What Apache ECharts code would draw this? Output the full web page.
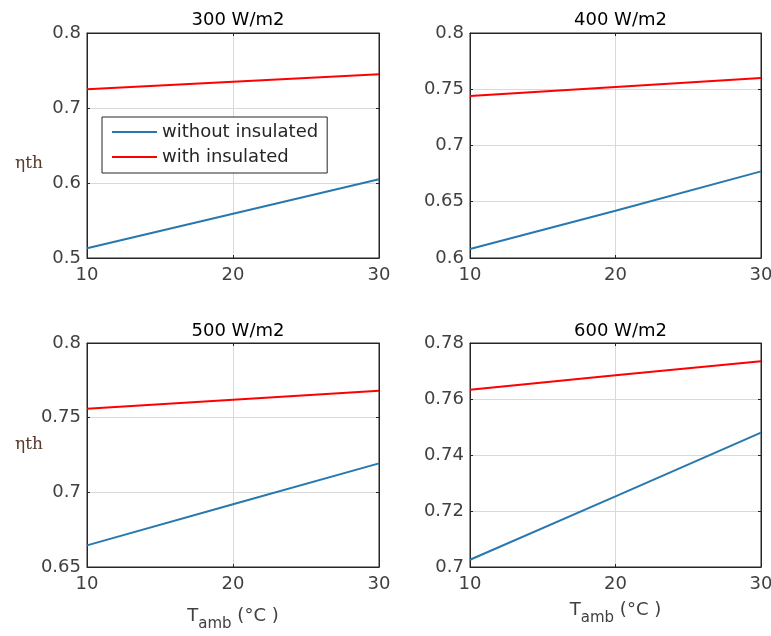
<!DOCTYPE html>
<html><head><meta charset="utf-8">
<script src="https://cdn.jsdelivr.net/npm/echarts@6/dist/echarts.min.js"></script>
<style>html,body{margin:0;padding:0;background:#fff}#c{width:771px;height:636px}</style>
</head><body><div id="c"></div>
<script>
const xValues = [10, 20, 30];
const titles = ['300 W/m2', '400 W/m2', '500 W/m2', '600 W/m2'];
const withoutInsulated300 = [0.513, 0.559, 0.605];
const withInsulated300 = [0.725, 0.735, 0.745];
const withoutInsulated400 = [0.608, 0.642, 0.677];
const withInsulated400 = [0.744, 0.752, 0.760];
const withoutInsulated500 = [0.6645, 0.692, 0.7194];
const withInsulated500 = [0.756, 0.762, 0.768];
const withoutInsulated600 = [0.7026, 0.7252, 0.748];
const withInsulated600 = [0.7633, 0.7685, 0.7735];
const yMins = [0.5, 0.6, 0.65, 0.7];
const yMaxs = [0.8, 0.8, 0.8, 0.78];
const yIntervals = [0.1, 0.05, 0.05, 0.02];
const yDecimals = [1, 2, 2, 2];

const blueData = [withoutInsulated300, withoutInsulated400, withoutInsulated500, withoutInsulated600];
const redData = [withInsulated300, withInsulated400, withInsulated500, withInsulated600];

const grids = [
  {left: 87, top: 33, width: 292, height: 225},
  {left: 470, top: 33, width: 291, height: 225},
  {left: 87, top: 343, width: 292, height: 224},
  {left: 470, top: 343, width: 291, height: 224}
];
const titleOffsets = [27, 27, 26, 26];
const yNamePads = [[36, 0, 0, 0], null, [0, 0, 20, 0], null];
const xNameGaps = [0, 0, 34, 28];
const axisColor = '#262626';
const labelColor = '#404040';
const fontFam = '"DejaVu Sans", sans-serif';
const serifFam = '"DejaVu Serif", "Liberation Serif", serif';

const xAxes = [], yAxes = [], series = [], titleArr = [];
grids.forEach((g, i) => {
  g.show = true; g.borderColor = axisColor; g.borderWidth = 1; g.containLabel = false;
  g.outerBoundsMode = 'none';
  titleArr.push({text: titles[i], left: g.left + g.width / 2, top: g.top - titleOffsets[i], textAlign: 'center',
    textStyle: {fontSize: 18, fontWeight: 'normal', color: '#000', fontFamily: fontFam}});
  const base = {gridIndex: i, type: 'value', min: 10, max: 30, interval: 10};
  xAxes.push(Object.assign({}, base, {
    position: 'bottom',
    axisLine: {show: true, lineStyle: {color: axisColor, width: 1}},
    axisTick: {show: true, inside: true, length: 3, lineStyle: {color: axisColor}},
    axisLabel: {show: true, fontSize: 18, color: labelColor, fontFamily: fontFam, margin: 8},
    splitLine: {show: true, lineStyle: {color: '#d9d9d9', width: 1}},
    name: i >= 2 ? 'T{sub|amb} (°C )' : '',
    nameLocation: 'middle', nameGap: xNameGaps[i], nameMoveOverlap: false,
    nameTextStyle: {fontSize: 18, color: labelColor, fontFamily: fontFam,
      rich: {sub: {fontSize: 15, color: labelColor, fontFamily: fontFam, padding: [16, 0, 0, 0]}}}
  }));
  xAxes.push(Object.assign({}, base, {
    position: 'top',
    axisLine: {show: true, lineStyle: {color: axisColor}},
    axisTick: {show: true, inside: true, length: 3, lineStyle: {color: axisColor}},
    axisLabel: {show: false}, splitLine: {show: false}
  }));
  const ybase = {gridIndex: i, type: 'value', min: yMins[i], max: yMaxs[i], interval: yIntervals[i]};
  const yName = {fontSize: 17, color: '#5a3a2a', fontFamily: serifFam};
  if (yNamePads[i]) {
    yName.rich = {a: {fontSize: 17, color: '#5a3a2a', fontFamily: serifFam, padding: yNamePads[i]}};
  }
  yAxes.push(Object.assign({}, ybase, {
    position: 'left',
    axisLine: {show: true, lineStyle: {color: axisColor}},
    axisTick: {show: true, inside: true, length: 3, lineStyle: {color: axisColor}},
    axisLabel: {show: true, fontSize: 18, color: labelColor, fontFamily: fontFam, margin: 6,
      formatter: v => (+v.toFixed(yDecimals[i])).toString()},
    splitLine: {show: true, lineStyle: {color: '#d9d9d9', width: 1}},
    name: (i === 0 || i === 2) ? '{a|ηth}' : '',
    nameLocation: 'middle', nameGap: 44, nameRotate: 0, nameMoveOverlap: false,
    nameTextStyle: yName
  }));
  yAxes.push(Object.assign({}, ybase, {
    position: 'right',
    axisLine: {show: true, lineStyle: {color: axisColor}},
    axisTick: {show: true, inside: true, length: 3, lineStyle: {color: axisColor}},
    axisLabel: {show: false}, splitLine: {show: false}
  }));
  series.push({
    name: 'without insulated', type: 'line', xAxisIndex: 2 * i, yAxisIndex: 2 * i,
    data: xValues.map((x, k) => [x, blueData[i][k]]), showSymbol: false, symbol: 'none',
    lineStyle: {color: '#2878b0', width: 2}, itemStyle: {color: '#2878b0'}, z: 3, silent: true
  });
  series.push({
    name: 'with insulated', type: 'line', xAxisIndex: 2 * i, yAxisIndex: 2 * i,
    data: xValues.map((x, k) => [x, redData[i][k]]), showSymbol: false, symbol: 'none',
    lineStyle: {color: '#ff0000', width: 2}, itemStyle: {color: '#ff0000'}, z: 3, silent: true
  });
});

const chart = echarts.init(document.getElementById('c'), null, {renderer: 'canvas'});
chart.setOption({
  animation: false,
  backgroundColor: '#fff',
  title: titleArr,
  grid: grids,
  xAxis: xAxes,
  yAxis: yAxes,
  legend: {
    data: ['without insulated', 'with insulated'],
    orient: 'vertical', left: 102, top: 117,
    padding: [6, 9, 7, 10],
    itemGap: 7,
    itemWidth: 45, itemHeight: 2,
    icon: 'rect',
    backgroundColor: '#fff',
    borderColor: axisColor, borderWidth: 1,
    textStyle: {fontSize: 18, color: '#262626', fontFamily: fontFam}
  },
  series: series
});
</script>
</body></html>
